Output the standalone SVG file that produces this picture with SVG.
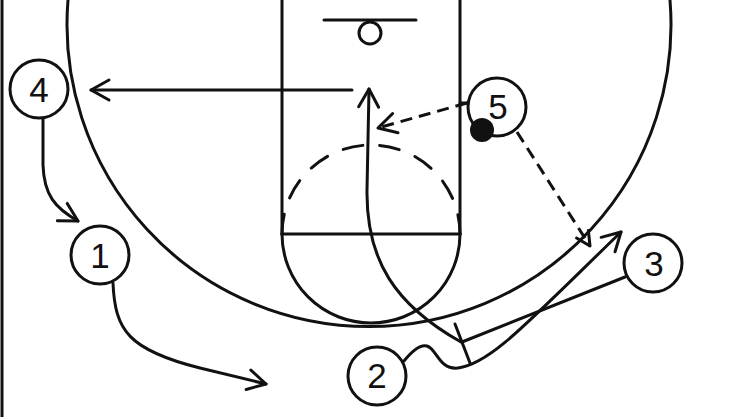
<svg xmlns="http://www.w3.org/2000/svg" width="729" height="417" viewBox="0 0 729 417">
<style>
.ln{fill:none;stroke:#111;stroke-width:3;stroke-linecap:round;stroke-linejoin:round}
.dash{stroke-dasharray:12 7;stroke-linecap:butt}
.pc{fill:#fff;stroke:#111;stroke-width:3}
.lbl{font-family:"Liberation Sans",Arial,sans-serif;font-size:35px;fill:#111;text-anchor:middle}
.mk{fill:none;stroke:#111;stroke-width:3;stroke-linecap:round;stroke-linejoin:round;stroke-dasharray:none}
</style>
<defs>
<marker id="arr" markerUnits="userSpaceOnUse" markerWidth="30" markerHeight="30" viewBox="-25 -15 30 30" refX="0" refY="0" orient="auto">
<path class="mk" d="M-18,-10 L0,0 L-18,10"/>
</marker>
<marker id="arrS" markerUnits="userSpaceOnUse" markerWidth="30" markerHeight="30" viewBox="-25 -15 30 30" refX="0" refY="0" orient="auto">
<path class="mk" d="M-14,-7 L0,0 L-14,7"/>
</marker>
</defs>
<rect width="729" height="417" fill="#fff"/>
<g id="court">
<line class="ln" x1="2" y1="0" x2="2" y2="417" stroke-linecap="butt"/>
<path class="ln" d="M68,0 A302,302 0 1 0 670,0"/>
<line class="ln" x1="282" y1="0" x2="282" y2="234"/>
<line class="ln" x1="460" y1="0" x2="460" y2="234"/>
<line class="ln" x1="282" y1="234" x2="460" y2="234"/>
<path class="ln" d="M282,234 A89,89 0 0 0 460,234"/>
<path class="ln" d="M282,234 A89,89 0 0 1 460,234" stroke-dasharray="20 17.09" stroke-linecap="butt"/>
<line class="ln" x1="324" y1="20" x2="416" y2="20"/>
<circle class="ln" cx="370" cy="33" r="11"/>
</g>
<g id="connectors">
<path class="ln" d="M352,90 L91,90" marker-end="url(#arr)"/>
<path class="ln" d="M461,342 C395,305 366,260 367,190 L369,89" marker-end="url(#arr)"/>
<path class="ln" d="M43,119 L43,165 C44,195 55,208 78,221" marker-end="url(#arr)"/>
<path class="ln" d="M113,283 C115,330 128,350 200,368 L266,384" marker-end="url(#arr)"/>
<path class="ln" d="M404,361 C412,351 420,344 427,346 C437,349 439,370 458,368 C490,364 525,325 621,232" marker-end="url(#arr)"/>
<path class="ln" d="M625,277 L462,342"/>
<line class="ln" x1="455" y1="324" x2="470" y2="363"/>
<path class="ln dash" d="M467,103 L378,128" marker-end="url(#arr)"/>
<path class="ln dash" d="M517,132 L590,246" marker-end="url(#arrS)"/>
<line class="ln" x1="460" y1="103" x2="468" y2="103"/>
</g>
<g id="p4"><circle class="pc" cx="39" cy="89" r="29"/><text class="lbl" x="39" y="102">4</text></g>
<g id="p1"><circle class="pc" cx="100" cy="255" r="29"/><text class="lbl" x="100" y="268">1</text></g>
<g id="p5"><circle class="pc" cx="497" cy="107" r="29"/><text class="lbl" x="498" y="119">5</text></g>
<g id="ball"><circle cx="482" cy="130" r="12" fill="#111"/></g>
<g id="p3"><circle class="pc" cx="653" cy="263" r="29"/><text class="lbl" x="654" y="276">3</text></g>
<g id="p2"><circle class="pc" cx="377" cy="376" r="29"/><text class="lbl" x="377" y="388">2</text></g>
</svg>
